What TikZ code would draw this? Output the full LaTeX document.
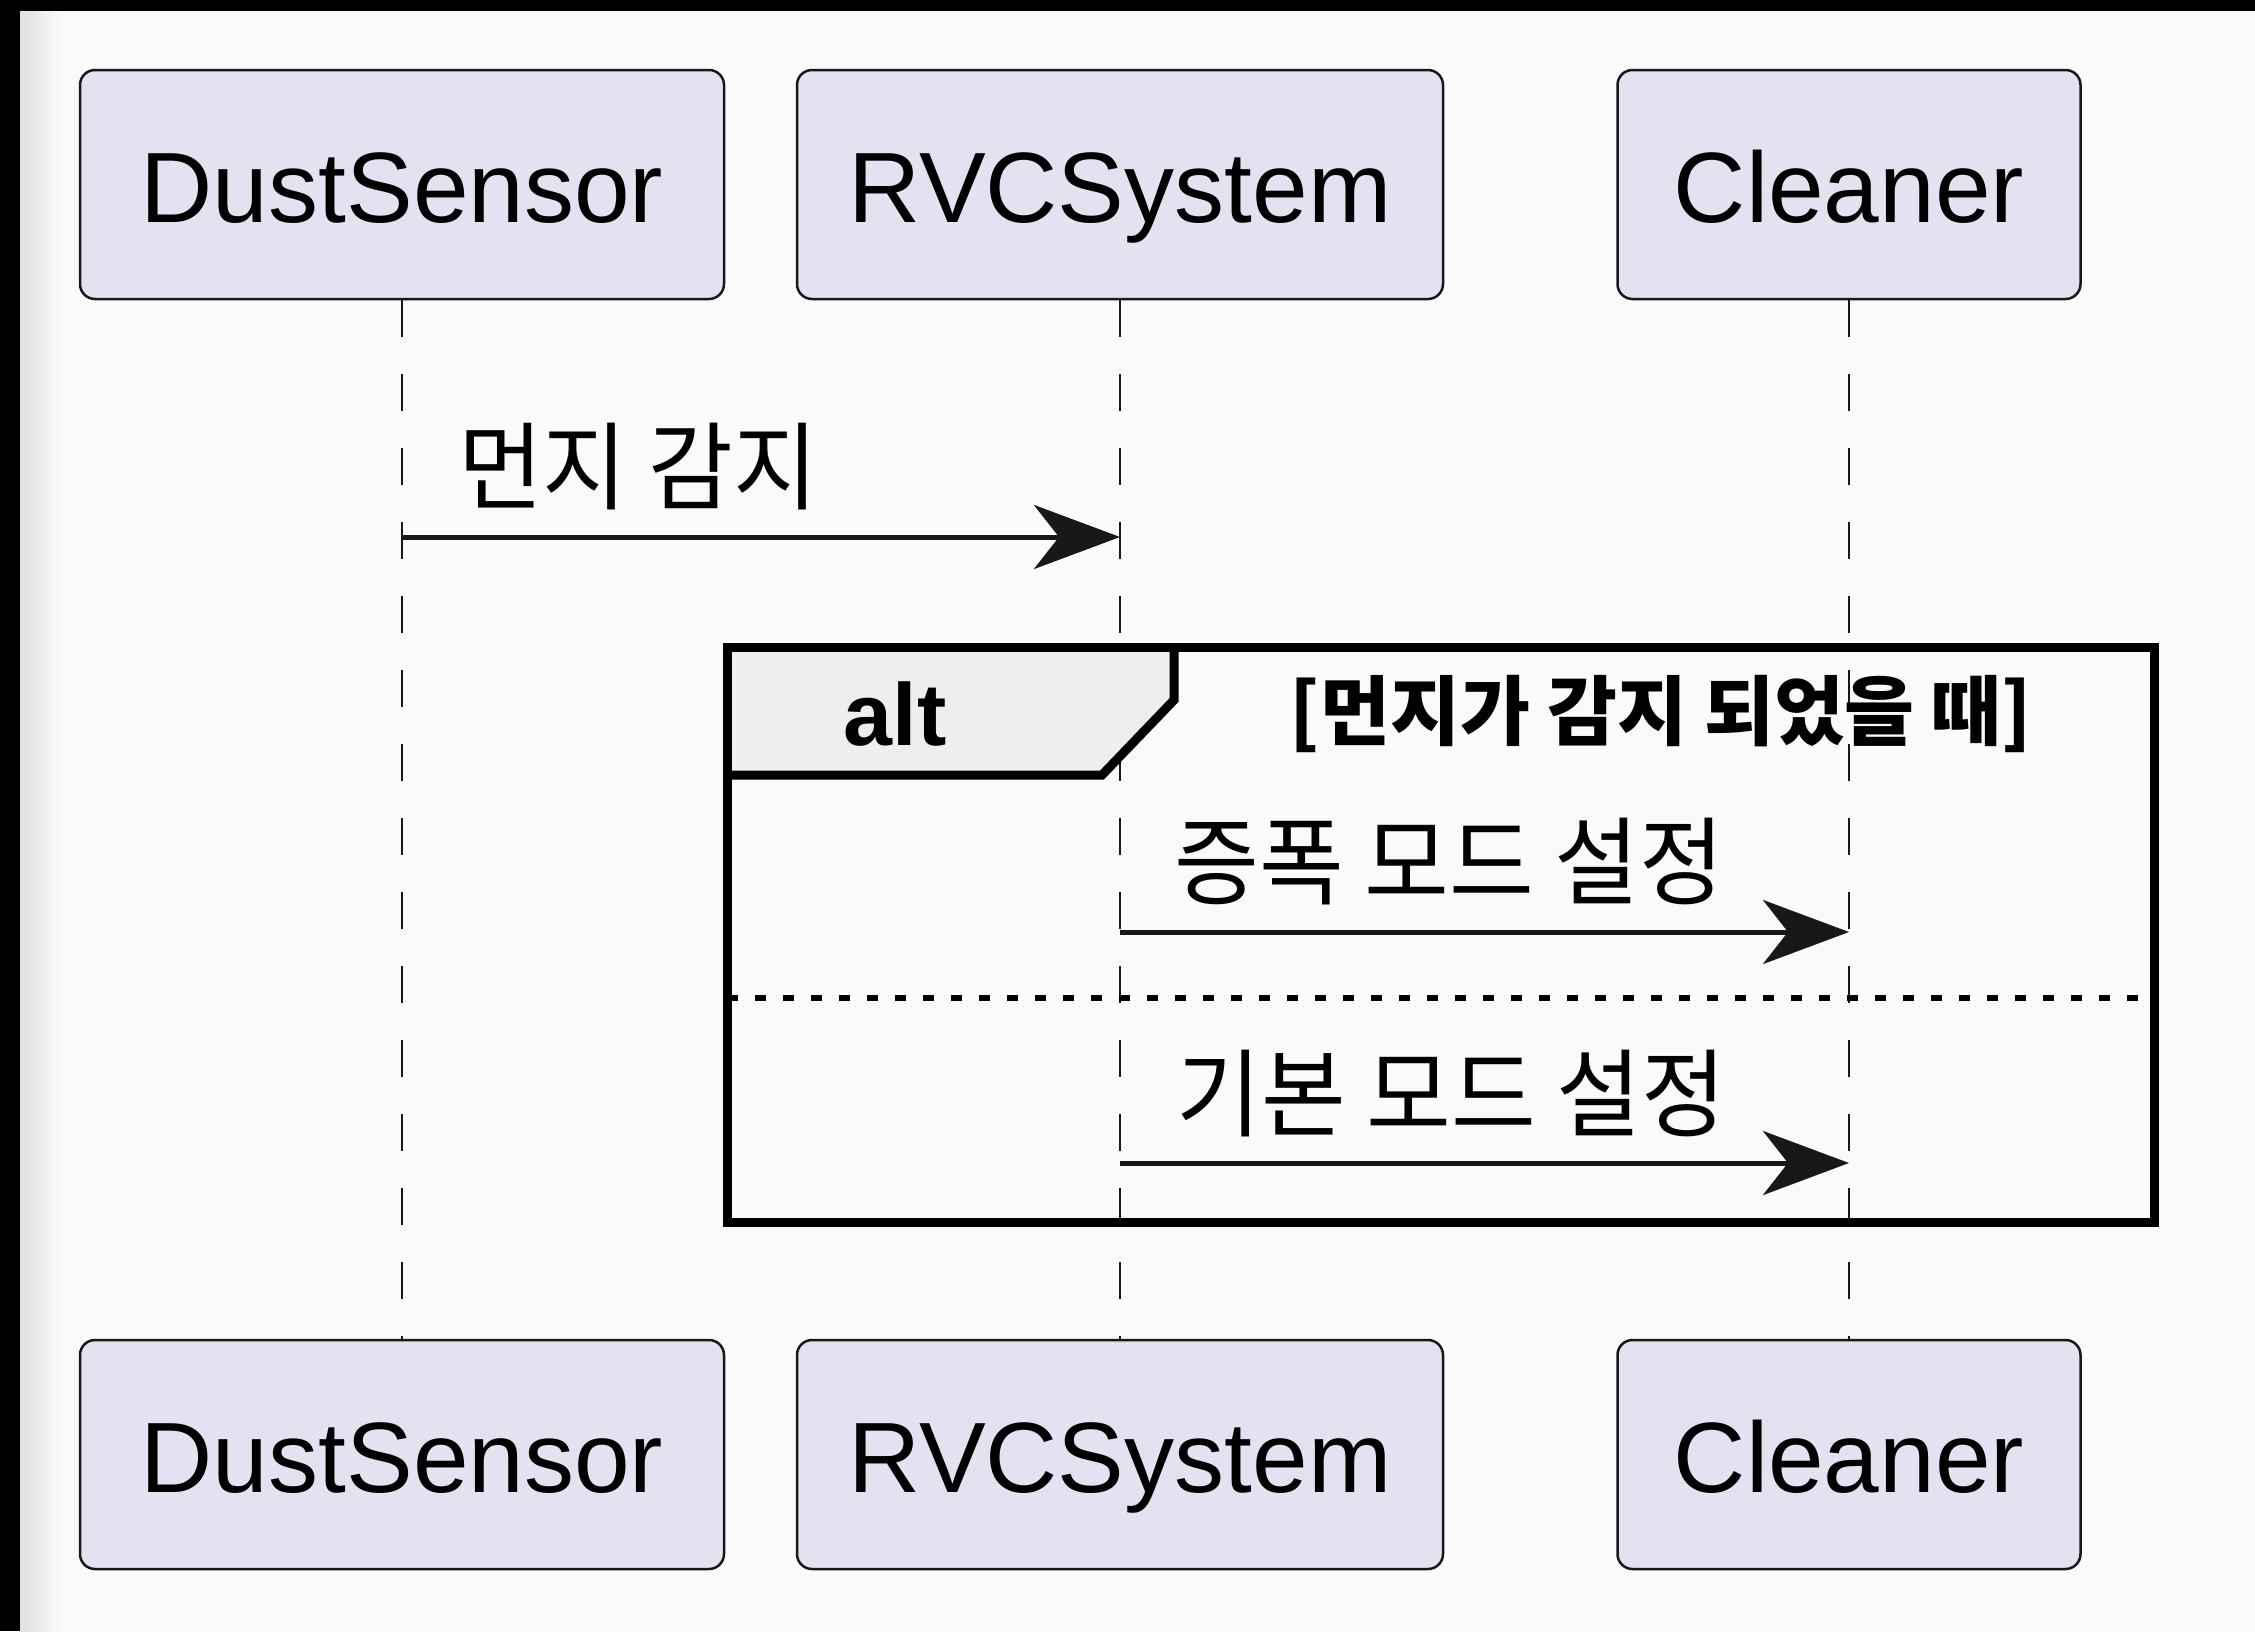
\documentclass[tikz,border=0pt]{standalone}
\usepackage{fontspec}
\usetikzlibrary{arrows.meta}
\setmainfont{Liberation Sans}
\newfontfamily\kor[FakeStretch=0.96]{Noto Sans CJK KR}
\newfontfamily\korc{Noto Sans CJK KR}
\definecolor{bg}{HTML}{FAFAFA}
\definecolor{pfill}{HTML}{E2E2F0}
\definecolor{pline}{HTML}{181818}
\definecolor{tabfill}{HTML}{EEEEEE}
\begin{document}
\begin{tikzpicture}[x=1pt,y=-1pt,
  part/.style={draw=pline, line width=2.5pt, fill=pfill, rounded corners=15pt,
    minimum width=#1, minimum height=229pt, inner sep=0pt,
    text height=76pt, text depth=0pt,
    font=\fontsize{100}{120}\selectfont},
  life/.style={draw=pline, line width=2.5pt, dash pattern=on 37pt off 37pt},
  msg/.style={draw=pline, line width=5pt,
    -{Stealth[length=86pt,width=64pt,inset=25pt]}},
  msgtxt/.style={anchor=west, inner sep=0pt, font=\kor\fontsize{96}{110}\selectfont},
  frameline/.style={draw=black, line width=9pt, line join=miter},
  sepline/.style={draw=black, line width=6pt, dash pattern=on 11pt off 17pt}]
\useasboundingbox (0,0) rectangle (2255,1631);
% background (screenshot)
\fill[bg] (0,0) rectangle (2255,1631);
\shade[left color=black!12, right color=bg] (20,11) rectangle (60,1631);
\fill[black] (0,0) rectangle (2255,11);
\fill[black] (0,0) rectangle (20,1631);
% participants
\node[part=644pt] (ds1) at (402,184.5) {DustSensor};
\node[part=646pt] (rvc1) at (1120,184.5) {RVCSystem};
\node[part=463pt] (cl1) at (1849,184.5) {Cleaner};
\node[part=644pt] (ds2) at (402,1454.5) {DustSensor};
\node[part=646pt] (rvc2) at (1120,1454.5) {RVCSystem};
\node[part=463pt] (cl2) at (1849,1454.5) {Cleaner};
% lifelines
\draw[life] (ds1.south) -- (ds2.north);
\draw[life] (rvc1.south) -- (rvc2.north);
\draw[life] (cl1.south) -- (cl2.north);
% alt frame
\coordinate (fTL) at (727,647);
\coordinate (fBR) at (2154,1222);
\coordinate (tabA) at (1174,647);
\coordinate (tabB) at (1174,700);
\coordinate (tabC) at (1102,775);
\coordinate (tabD) at (727,775);
\fill[tabfill] (fTL) -- (tabA) -- (tabB) -- (tabC) -- (tabD) -- cycle;
\draw[frameline] (tabD) -- (tabC) -- (tabB) -- (tabA);
\draw[frameline] (fTL) rectangle (fBR);
\coordinate (sepL) at (727,998);
\coordinate (sepR) at (2154,998);
\draw[sepline] (sepL) -- (sepR);
\node[font=\bfseries\fontsize{88}{100}\selectfont, inner sep=0pt] (alt) at (895,714) {alt};
\node[font=\korc\bfseries\fontsize{76}{90}\selectfont, inner sep=0pt] (cond) at (1661,714) {[먼지가 감지 되었을 때]};
% messages
\coordinate (m1s) at (ds1.south |- 0,537);
\coordinate (m1e) at (rvc1.south |- 0,537);
\coordinate (m2s) at (rvc1.south |- 0,932);
\coordinate (m2e) at (cl1.south |- 0,932);
\coordinate (m3s) at (rvc1.south |- 0,1163);
\coordinate (m3e) at (cl1.south |- 0,1163);
\draw[msg] (m1s) -- (m1e);
\draw[msg] (m2s) -- (m2e);
\draw[msg] (m3s) -- (m3e);
\node[msgtxt] (l1) at (458,467) {먼지 감지};
\node[msgtxt] (l2) at (1174,862) {증폭 모드 설정};
\node[msgtxt] (l3) at (1176,1094) {기본 모드 설정};
\end{tikzpicture}
\end{document}
